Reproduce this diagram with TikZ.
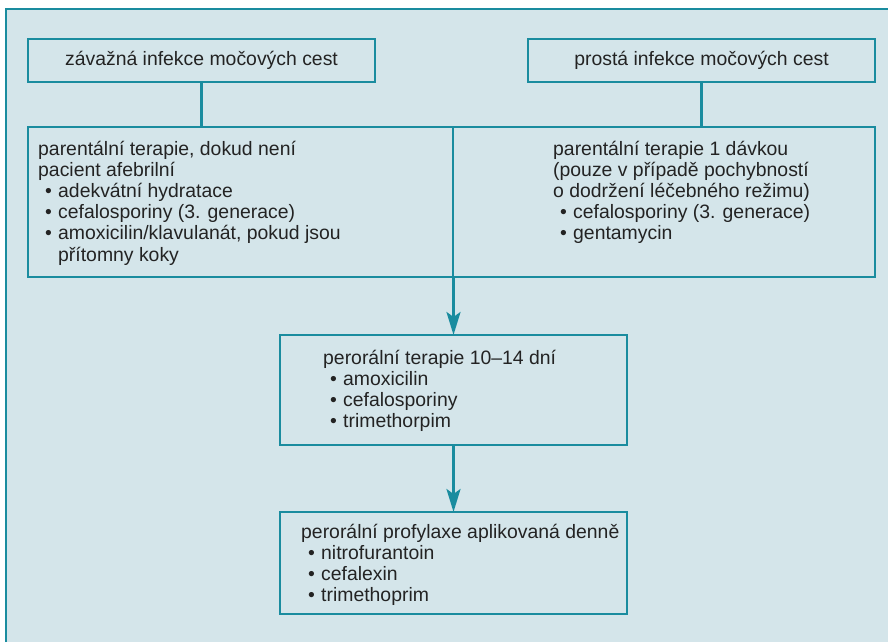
\documentclass[tikz,border=0pt]{standalone}
\usepackage{fontspec}
\setmainfont{Liberation Sans}
\usetikzlibrary{arrows.meta}
\definecolor{panel}{HTML}{D4E5EA}
\definecolor{teal}{HTML}{1A8C9F}
\definecolor{ink}{HTML}{232323}
\newcommand{\itm}[1]{\hspace*{7pt}\makebox[13pt][l]{•}#1}
\newcommand{\cont}[1]{\hspace*{20pt}#1}
\begin{document}
\begin{tikzpicture}[x=1pt,y=-1pt,
  box/.style={draw=teal,line width=2.8pt,fill=panel,inner sep=0pt,outer sep=0pt,anchor=north west},
  txt/.style={inner sep=0pt,anchor=base west,text=ink,
    font=\fontsize{19.4}{21.2}\selectfont},
  link/.style={draw=teal,line width=2.8pt},
  arr/.style={link,-{Stealth[length=23pt,width=14pt,inset=5pt]}}]
  \useasboundingbox (0,0) rectangle (888,642);
  % panel with top and left rules
  \fill[panel] (6,9) rectangle (888,642);
  \draw[teal,line width=2pt] (6,642) -- (6,9) -- (888,9);

  % boxes
  \node[box,minimum width=347pt,minimum height=43pt] (b1) at (28,39) {};
  \node[box,minimum width=347pt,minimum height=43pt] (b2) at (528,39) {};
  \node[box,minimum width=425pt,minimum height=150pt] (b3) at (28,127) {};
  \node[box,minimum width=422pt,minimum height=150pt] (b4) at (453,127) {};
  \node[box,minimum width=347pt,minimum height=110pt] (b5) at (280,335) {};
  \node[box,minimum width=347pt,minimum height=102pt] (b6) at (280,512) {};

  % connectors
  \draw[link] (b1.south) -- (b1.south |- b3.north);
  \draw[link] (b2.south) -- (b2.south |- b4.north);
  \draw[arr] (b5.north |- b3.south) -- (b5.north);
  \draw[arr] (b5.south) -- (b6.north);

  % texts
  \node[txt,anchor=base] (t1) at ([yshift=-5.5pt]b1.center) {závažná infekce močových cest};
  \node[txt,anchor=base] (t2) at ([yshift=-5.5pt]b2.center) {prostá infekce močových cest};
  \node[txt] (t3) at (38,155) {\begin{tabular}[t]{@{}l@{}}
    parentální terapie, dokud není\\
    pacient afebrilní\\
    \itm{adekvátní hydratace}\\
    \itm{cefalosporiny (3. generace)}\\
    \itm{amoxicilin/klavulanát, pokud jsou}\\
    \cont{přítomny koky}
  \end{tabular}};
  \node[txt] (t4) at (553,155) {\begin{tabular}[t]{@{}l@{}}
    parentální terapie 1 dávkou\\
    (pouze v případě pochybností\\
    o dodržení léčebného režimu)\\
    \itm{cefalosporiny (3. generace)}\\
    \itm{gentamycin}
  \end{tabular}};
  \node[txt] (t5) at (323,364) {\begin{tabular}[t]{@{}l@{}}
    perorální terapie 10–14 dní\\
    \itm{amoxicilin}\\
    \itm{cefalosporiny}\\
    \itm{trimethorpim}
  \end{tabular}};
  \node[txt] (t6) at (301,538) {\begin{tabular}[t]{@{}l@{}}
    perorální profylaxe aplikovaná denně\\
    \itm{nitrofurantoin}\\
    \itm{cefalexin}\\
    \itm{trimethoprim}
  \end{tabular}};
\end{tikzpicture}
\end{document}
